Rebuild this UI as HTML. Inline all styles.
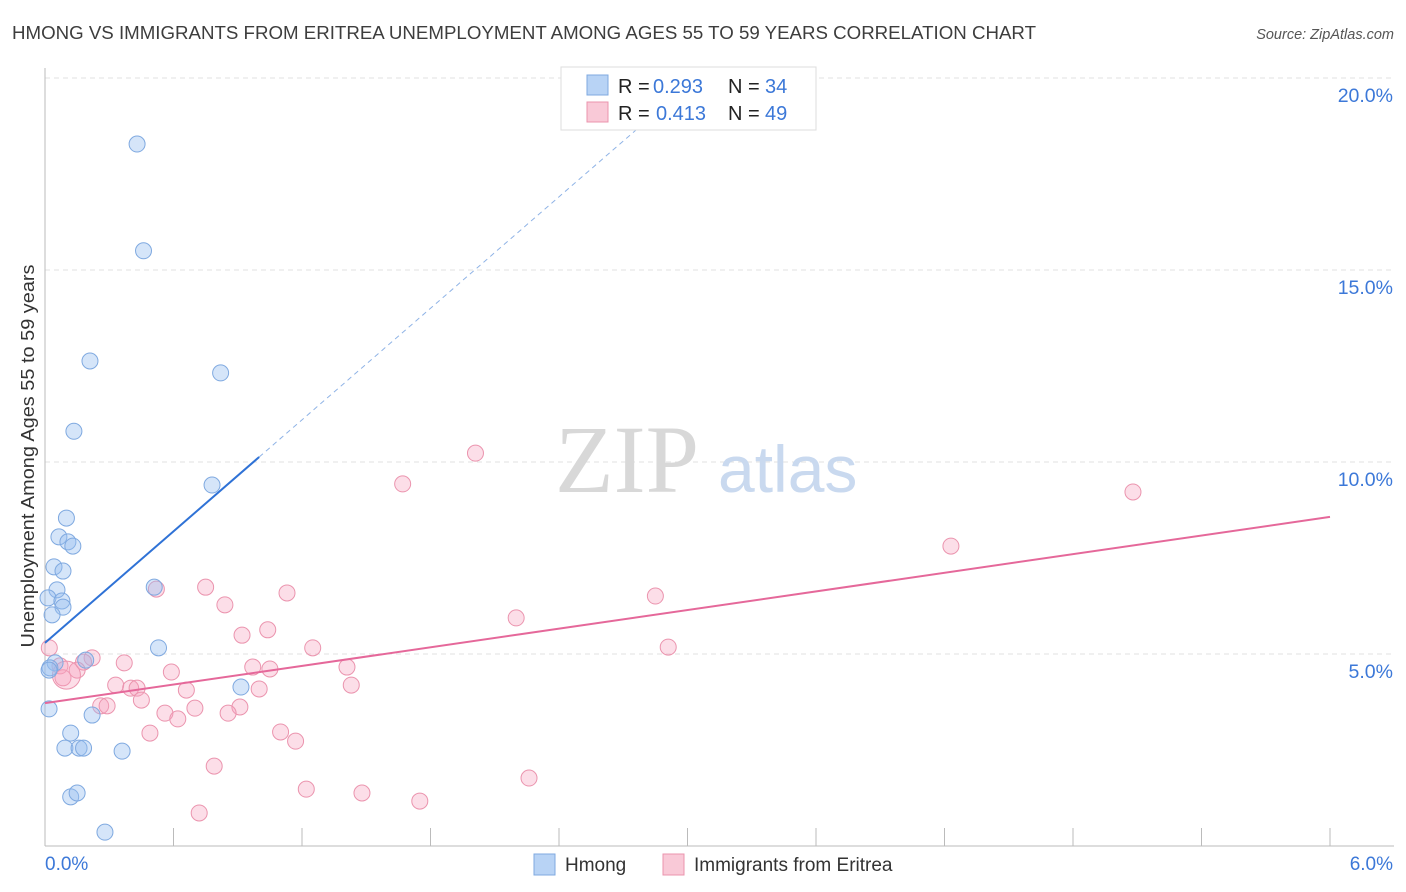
<!DOCTYPE html>
<html><head><meta charset="utf-8"><style>
body{margin:0;background:#fff;font-family:"Liberation Sans",sans-serif}
svg{display:block}
</style></head><body>
<svg id="c" width="1406" height="892">
<text x="12" y="39" font-size="18" fill="#3d3d3d" textLength="1024" lengthAdjust="spacingAndGlyphs">HMONG VS IMMIGRANTS FROM ERITREA UNEMPLOYMENT AMONG AGES 55 TO 59 YEARS CORRELATION CHART</text>
<text x="1394" y="39" font-size="14.5" fill="#555" font-style="italic" text-anchor="end">Source: ZipAtlas.com</text>
<text x="34" y="456" font-size="18" fill="#333" text-anchor="middle" textLength="383" lengthAdjust="spacingAndGlyphs" transform="rotate(-90 34 456)">Unemployment Among Ages 55 to 59 years</text>
<g id="grid"></g>
<text x="555" y="492" font-size="96" fill="#d8d8d8" font-family="Liberation Serif,serif">ZIP</text>
<text x="718" y="492" font-size="66" fill="#c9d9ef">atlas</text>
<g id="pts"></g>
<g id="lines"></g>
<g>
<rect x="561" y="67" width="255" height="63" fill="#fff" stroke="#ddd"/>
<rect x="587" y="75" width="21" height="20" fill="#b8d3f5" stroke="#7fa9e0"/>
<rect x="587" y="102" width="21" height="20" fill="#f9c9d7" stroke="#eb94ae"/>
<text y="93" font-size="20" fill="#222"><tspan x="618">R =</tspan><tspan x="653" fill="#3c78d8">0.293</tspan><tspan x="728">N =</tspan><tspan x="765" fill="#3c78d8">34</tspan></text>
<text y="120" font-size="20" fill="#222"><tspan x="618">R =</tspan><tspan x="656" fill="#3c78d8">0.413</tspan><tspan x="728">N =</tspan><tspan x="765" fill="#3c78d8">49</tspan></text>
</g>
<g>
<rect x="534" y="854" width="21" height="21" fill="#b8d3f5" stroke="#7fa9e0"/>
<text x="565" y="871" font-size="19" fill="#333">Hmong</text>
<rect x="663" y="854" width="21" height="21" fill="#f9c9d7" stroke="#eb94ae"/>
<text x="694" y="871" font-size="19" fill="#333">Immigrants from Eritrea</text>
</g>
</svg>
<script>
const yTicks=[5,10,15,20];
const yTickLabels=["5.0%","10.0%","15.0%","20.0%"];
const xTickCount=10;
const hmongX=[0.43,0.46,0.21,0.82,0.135,0.78,0.10,0.065,0.107,0.13,0.042,0.084,0.056,0.51,0.014,0.079,0.084,0.033,0.53,0.19,0.047,0.023,0.019,0.915,0.019,0.22,0.12,0.093,0.159,0.18,0.36,0.12,0.15,0.28];
const hmongY=[18.28,15.5,12.63,12.32,10.8,9.4,8.54,8.05,7.92,7.81,7.27,7.16,6.67,6.74,6.46,6.38,6.22,6.02,5.16,4.84,4.77,4.64,4.58,4.14,3.57,3.41,2.94,2.55,2.55,2.55,2.47,1.28,1.38,0.36];
const eriX=[2.01,1.67,5.08,4.23,0.75,0.52,1.13,2.85,0.84,2.2,1.04,0.92,1.25,2.91,0.02,0.22,0.37,0.18,0.07,0.15,0.97,1.41,1.05,0.59,0.084,1.43,0.33,0.4,0.43,0.66,1.0,0.45,0.26,0.29,0.7,0.56,0.91,0.855,0.62,0.49,1.1,1.17,0.79,2.26,1.22,1.48,1.75,0.72,0.1];
const eriY=[10.23,9.43,9.22,7.81,6.74,6.69,6.59,6.51,6.28,5.94,5.63,5.49,5.16,5.18,5.16,4.9,4.77,4.79,4.69,4.58,4.66,4.66,4.61,4.53,4.38,4.19,4.19,4.11,4.11,4.06,4.09,3.8,3.65,3.65,3.59,3.46,3.62,3.46,3.31,2.94,2.97,2.73,2.08,1.77,1.48,1.38,1.17,0.86,4.45];
const hmongTrend=[5.29,10.13];
const eriTrend=[3.72,8.57];
const X=v=>45+v/6*1285, Y=v=>846-v*38.4;
const NS="http://www.w3.org/2000/svg";
function mk(t,a,p){const e=document.createElementNS(NS,t);for(const k in a)e.setAttribute(k,a[k]);p.appendChild(e);return e;}
const g=document.getElementById('grid');
yTicks.forEach((t,i)=>{
 const l=mk('line',{x1:45,x2:1394,y1:Y(t),y2:Y(t),stroke:'#e2e2e2','stroke-dasharray':'5,4'},g);
 
 
 const tx=mk('text',{x:1393,y:Y(t)+24,'font-size':19.5,fill:'#3c78d8','text-anchor':'end'},g);
 tx.textContent=yTickLabels[i];
 
 
});
const topLine=mk('line',{x1:45,x2:1394,y1:78,y2:78,stroke:'#e2e2e2','stroke-dasharray':'5,4'},g);


const ya=mk('line',{x1:45,x2:45,y1:68,y2:846,stroke:'#bbb'},g);


const xa=mk('line',{x1:45,x2:1394,y1:846,y2:846,stroke:'#bbb'},g);


for(let i=1;i<=xTickCount;i++){
 const tk=mk('line',{x1:X(i*0.6),x2:X(i*0.6),y1:828,y2:846,stroke:'#bbb'},g);
 
 
}
const xl0=mk('text',{x:45,y:870,'font-size':19,fill:'#3c78d8'},g);xl0.textContent='0.0%';


const xl1=mk('text',{x:1393,y:870,'font-size':19,fill:'#3c78d8','text-anchor':'end'},g);xl1.textContent='6.0%';


const p=document.getElementById('pts');
eriX.forEach((x,i)=>{
 const c=mk('circle',{cx:X(x),cy:Y(eriY[i]),r:i==eriX.length-1?14:8,fill:'rgba(245,160,188,0.35)',stroke:'#eb94ae','stroke-width':1},p);
 
 
});
hmongX.forEach((x,i)=>{
 const c=mk('circle',{cx:X(x),cy:Y(hmongY[i]),r:8,fill:'rgba(150,190,240,0.4)',stroke:'#7fa9e0','stroke-width':1},p);
 
 
});
const L=document.getElementById('lines');
const hs=(hmongTrend[1]-hmongTrend[0]);
const b1=mk('line',{x1:X(0),y1:Y(hmongTrend[0]),x2:X(1),y2:Y(hmongTrend[1]),stroke:'#2f72d6','stroke-width':2},L);


const b2=mk('line',{x1:X(1),y1:Y(hmongTrend[1]),x2:X(2.85),y2:Y(hmongTrend[0]+hs*2.85),stroke:'#8fb3e6','stroke-width':1,'stroke-dasharray':'5,4'},L);


const r1=mk('line',{x1:X(0),y1:Y(eriTrend[0]),x2:X(6),y2:Y(eriTrend[1]),stroke:'#e5689a','stroke-width':2},L);


</script>
</body></html>
